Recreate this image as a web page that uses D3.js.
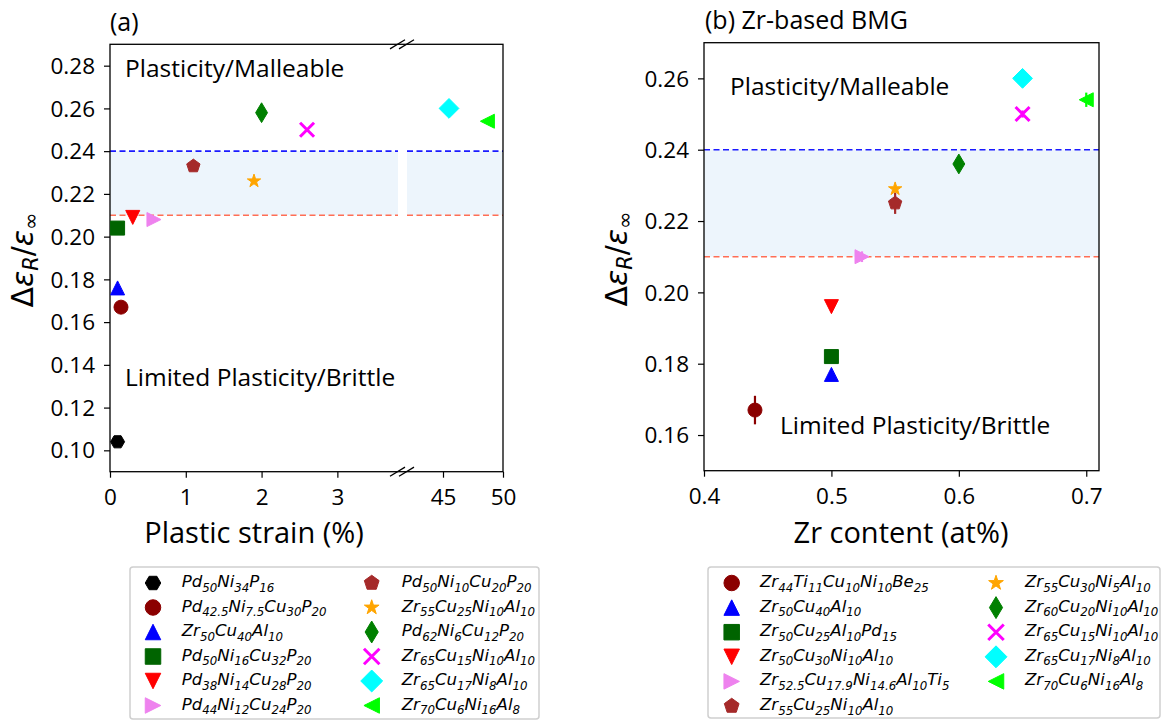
<!DOCTYPE html>
<html>
<head>
<meta charset="utf-8">
<script src="https://cdn.jsdelivr.net/npm/d3@7"></script>
<style>
  body { margin: 0; background: #fff; }
  svg { display: block; }
  text { font-family: "Open Sans", sans-serif; fill: #000; }
</style>
</head>
<body>
<svg id="chart" width="1161" height="724"></svg>
<script>
// ---- data ----
// panel (a): plastic strain vs relaxation ratio
const namesA = ['Pd50Ni34P16', 'Pd42.5Ni7.5Cu30P20', 'Zr50Cu40Al10', 'Pd50Ni16Cu32P20',
  'Pd38Ni14Cu28P20', 'Pd44Ni12Cu24P20', 'Pd50Ni10Cu20P20', 'Zr55Cu25Ni10Al10',
  'Pd62Ni6Cu12P20', 'Zr65Cu15Ni10Al10', 'Zr65Cu17Ni8Al10', 'Zr70Cu6Ni16Al8'];
const strainA = [0.1, 0.145, 0.1, 0.1, 0.3, 0.58, 1.1, 1.9, 2.0, 2.6, 45.5, 48.7];
const ratioA = [0.104, 0.167, 0.176, 0.204, 0.209, 0.208, 0.233, 0.226, 0.258, 0.250, 0.260, 0.254];
const markA = ['H', 'o', '^', 's', 'v', '>', 'p', '*', 'd', 'x', 'D', '<'];
const colorA = ['black', 'darkred', 'blue', 'darkgreen', 'red', 'violet', 'brown', 'orange',
  'green', 'magenta', 'cyan', 'lime'];

// panel (b): Zr content vs relaxation ratio
const namesB = ['Zr44Ti11Cu10Ni10Be25', 'Zr50Cu40Al10', 'Zr50Cu25Al10Pd15', 'Zr50Cu30Ni10Al10',
  'Zr52.5Cu17.9Ni14.6Al10Ti5', 'Zr55Cu25Ni10Al10', 'Zr55Cu30Ni5Al10', 'Zr60Cu20Ni10Al10',
  'Zr65Cu15Ni10Al10', 'Zr65Cu17Ni8Al10', 'Zr70Cu6Ni16Al8'];
const zrB = [0.44, 0.5, 0.5, 0.5, 0.524, 0.55, 0.55, 0.6, 0.65, 0.65, 0.70];
const ratioB = [0.167, 0.177, 0.182, 0.196, 0.210, 0.225, 0.229, 0.236, 0.250, 0.260, 0.254];
const errB = [0.004, 0, 0, 0, 0.0015, 0.003, 0.001, 0, 0.001, 0, 0.002];
const markB = ['o', '^', 's', 'v', '>', 'p', '*', 'd', 'x', 'D', '<'];
const colorB = ['darkred', 'blue', 'darkgreen', 'red', 'violet', 'brown', 'orange', 'green',
  'magenta', 'cyan', 'lime'];

// thresholds
const bandLow = 0.21;
const bandHigh = 0.24;

// ticks
const ticksA1 = [0, 1, 2, 3];
const ticksA2 = [45, 50];
const ticksYA = [0.10, 0.12, 0.14, 0.16, 0.18, 0.20, 0.22, 0.24, 0.26, 0.28];
const ticksXB = [0.4, 0.5, 0.6, 0.7];
const ticksYB = [0.16, 0.18, 0.20, 0.22, 0.24, 0.26];

// colours
const BAND = '#edf5fc';
const BLUE_DASH = '#1a1aff';
const RED_DASH = '#ff6e55';
const MS = 14;

const svg = d3.select('#chart');

// ---- scales ----
const xA1 = d3.scaleLinear().domain([0, 3.8]).range([110, 398]);
const xA2 = d3.scaleLinear().domain([42, 50]).range([407, 503]);
const yA = d3.scaleLinear().domain([0.09, 0.29]).range([471.7, 44.3]);
const xB = d3.scaleLinear().domain([0.4, 0.71]).range([704, 1099]);
const yB = d3.scaleLinear().domain([0.15, 0.27]).range([470.7, 42.7]);

/**
 * path for a matplotlib-like marker centred at 0,0
 */
function markerPath(kind, ms) {
  const h = ms / 2;
  const poly = pts => 'M' + pts.map(p => p.join(',')).join('L') + 'Z';
  const ring = (n, r, rot) => d3.range(n).map(i => {
    const a = rot + i * 2 * Math.PI / n;
    return [r * Math.sin(a), -r * Math.cos(a)];
  });
  switch (kind) {
    case 'o': {
      const p = d3.path(); p.arc(0, 0, h, 0, 2 * Math.PI); return p.toString();
    }
    case 's': return poly([[-h, -h], [h, -h], [h, h], [-h, h]]);
    case '^': return poly([[0, -h], [h, h], [-h, h]]);
    case 'v': return poly([[0, h], [h, -h], [-h, -h]]);
    case '>': return poly([[h, 0], [-h, -h], [-h, h]]);
    case '<': return poly([[-h, 0], [h, -h], [h, h]]);
    case 'p': return poly(ring(5, h, 0));
    case 'H': return poly(ring(6, h, Math.PI / 2));
    case '*': {
      const pts = d3.range(10).map(i => {
        const r = i % 2 ? h * 0.381966 : h;
        const a = i * Math.PI / 5;
        return [r * Math.sin(a), -r * Math.cos(a)];
      });
      return poly(pts);
    }
    case 'D': { const d = h * Math.SQRT2; return poly([[0, -d], [d, 0], [0, d], [-d, 0]]); }
    case 'd': { const d = h * Math.SQRT2; return poly([[0, -d], [0.6 * d, 0], [0, d], [-0.6 * d, 0]]); }
    case 'x': return `M${-h},${-h}L${h},${h}M${-h},${h}L${h},${-h}`;
  }
}

function drawMarker(g, kind, color, ms) {
  g.append('path')
    .attr('d', markerPath(kind, ms))
    .attr('fill', kind === 'x' ? 'none' : color)
    .attr('stroke', color)
    .attr('stroke-width', kind === 'x' ? 3 : 1)
    .attr('stroke-linejoin', 'miter');
}

/**
 * write a formula like Zr50Cu40Al10 as italic text with subscripts
 */
function formula(text, s) {
  const parts = [...s.matchAll(/([A-Z][a-z]?)([\d.]+)/g)];
  let shifted = 0;
  parts.forEach(p => {
    text.append('tspan').attr('dy', -shifted).text(p[1]);
    text.append('tspan').attr('dy', 4.5).attr('font-size', 11.8).text(p[2]);
    shifted = 4.5;
  });
}

function yLabel(x, y) {
  const t = svg.append('text')
    .attr('transform', `translate(${x},${y}) rotate(-90)`)
    .attr('text-anchor', 'middle')
    .style('font-family', 'DejaVu Sans')
    .attr('font-size', 30);
  t.append('tspan').text('Δ');
  t.append('tspan').attr('font-style', 'italic').text('ε');
  t.append('tspan').attr('font-style', 'italic').attr('font-size', 21).attr('dy', 5).text('R');
  t.append('tspan').attr('dy', -5).text('/');
  t.append('tspan').attr('font-style', 'italic').text('ε');
  t.append('tspan').attr('font-size', 21).attr('dy', 5).text('∞');
}

function band(xs, y) {
  xs.forEach(x => {
    const [x0, x1] = x.range();
    svg.append('rect')
      .attr('x', x0).attr('width', x1 - x0)
      .attr('y', y(bandHigh)).attr('height', y(bandLow) - y(bandHigh))
      .attr('fill', BAND);
    [[bandHigh, BLUE_DASH], [bandLow, RED_DASH]].forEach(([v, c]) => {
      svg.append('line')
        .attr('x1', x0).attr('x2', x1)
        .attr('y1', y(v)).attr('y2', y(v))
        .attr('stroke', c).attr('stroke-width', 1.6)
        .attr('stroke-dasharray', '6,3.5');
    });
  });
}

function frame(x0, x1, y) {
  const [yb, yt] = y.range();
  svg.append('rect')
    .attr('x', x0).attr('y', yt).attr('width', x1 - x0).attr('height', yb - yt)
    .attr('fill', 'none').attr('stroke', '#000').attr('stroke-width', 1.3);
}

function yTicks(x0, y, ticks) {
  const g = svg.append('g').attr('transform', `translate(${x0},0)`);
  const ax = d3.axisLeft(y).tickValues(ticks).tickFormat(d3.format('.2f')).tickSize(6).tickPadding(9);
  g.call(ax);
  g.select('.domain').remove();
  g.selectAll('line').attr('stroke', '#000').attr('stroke-width', 1.2);
  g.selectAll('text').attr('font-size', 22.5).attr('font-family', 'Open Sans').attr('dy', '0.34em');
}

function xTicks(x, y0, ticks, fmt) {
  const g = svg.append('g').attr('transform', `translate(0,${y0})`);
  const ax = d3.axisBottom(x).tickValues(ticks).tickFormat(fmt).tickSize(6).tickPadding(6);
  g.call(ax);
  g.select('.domain').remove();
  g.selectAll('line').attr('stroke', '#000').attr('stroke-width', 1.2);
  g.selectAll('text').attr('font-size', 22.5).attr('font-family', 'Open Sans').attr('dy', '0.95em');
}

function points(xf, y, xs, ys, errs, marks, colors) {
  xs.forEach((v, i) => {
    const cx = xf(v), cy = y(ys[i]);
    if (errs && errs[i] > 0) {
      svg.append('line')
        .attr('x1', cx).attr('x2', cx)
        .attr('y1', y(ys[i] - errs[i])).attr('y2', y(ys[i] + errs[i]))
        .attr('stroke', colors[i]).attr('stroke-width', 2.2);
    }
    const g = svg.append('g').attr('transform', `translate(${cx},${cy})`);
    drawMarker(g, marks[i], colors[i], MS);
  });
}

function legend(x0, y0, w, h, names, marks, colors, perCol, rowH, colX) {
  svg.append('rect')
    .attr('x', x0).attr('y', y0).attr('width', w).attr('height', h)
    .attr('rx', 3).attr('fill', '#fff').attr('stroke', '#cfcfcf').attr('stroke-width', 1.5);
  names.forEach((n, i) => {
    const col = Math.floor(i / perCol), row = i % perCol;
    const cy = y0 + 16 + row * rowH;
    const [mx, tx] = colX[col];
    const g = svg.append('g').attr('transform', `translate(${mx},${cy})`);
    drawMarker(g, marks[i], colors[i], 15.5);
    const t = svg.append('text')
      .attr('x', tx).attr('y', cy + 4)
      .style('font-family', 'DejaVu Sans')
      .attr('font-style', 'italic')
      .attr('font-size', 16.6);
    formula(t, n);
  });
}

// ---- panel (a) ----
band([xA1, xA2], yA);
frame(110, 503, yA);
// break gap
svg.append('rect').attr('x', 398).attr('y', yA(0.29) + 1).attr('width', 9)
  .attr('height', yA(0.09) - yA(0.29) - 2).attr('fill', '#fff');
// break marks
[yA(0.29), yA(0.09)].forEach(yy => {
  [397.5, 406.5].forEach(cx => {
    svg.append('line')
      .attr('x1', cx - 7.5).attr('y1', yy + 4.6)
      .attr('x2', cx + 7.5).attr('y2', yy - 4.6)
      .attr('stroke', '#000').attr('stroke-width', 1.3);
  });
});
yTicks(110, yA, ticksYA);
xTicks(xA1, 471.7, ticksA1, d3.format('d'));
xTicks(xA2, 471.7, ticksA2, d3.format('d'));

const splitX = v => v < 10 ? xA1(v) : xA2(v);
points(splitX, yA, strainA, ratioA, null, markA, colorA);

svg.append('text').attr('x', 110).attr('y', 31).attr('font-size', 25).text('(a)');
svg.append('text').attr('x', 125).attr('y', 77).attr('font-size', 24.5).text('Plasticity/Malleable');
svg.append('text').attr('x', 125).attr('y', 386).attr('font-size', 24.5).text('Limited Plasticity/Brittle');
svg.append('text').attr('x', 254).attr('y', 543).attr('text-anchor', 'middle').attr('font-size', 29)
  .text('Plastic strain (%)');
yLabel(33, 260);

legend(130, 567, 409, 152, namesA, markA, colorA, 6, 24.5, [[153, 181.7], [371.7, 401.7]]);

// ---- panel (b) ----
band([xB], yB);
frame(704, 1099, yB);
yTicks(704, yB, ticksYB);
xTicks(xB, 470.7, ticksXB, d3.format('.1f'));
points(xB, yB, zrB, ratioB, errB, markB, colorB);

svg.append('text').attr('x', 705).attr('y', 29).attr('font-size', 25).text('(b) Zr-based BMG');
svg.append('text').attr('x', 730).attr('y', 95).attr('font-size', 24.5).text('Plasticity/Malleable');
svg.append('text').attr('x', 780).attr('y', 434).attr('font-size', 24.5).text('Limited Plasticity/Brittle');
svg.append('text').attr('x', 901).attr('y', 543).attr('text-anchor', 'middle').attr('font-size', 29)
  .text('Zr content (at%)');
yLabel(627, 259);

legend(708, 567, 452, 151, namesB, markB, colorB, 6, 24.6, [[731.7, 760], [996, 1025]]);
</script>
</body>
</html>
